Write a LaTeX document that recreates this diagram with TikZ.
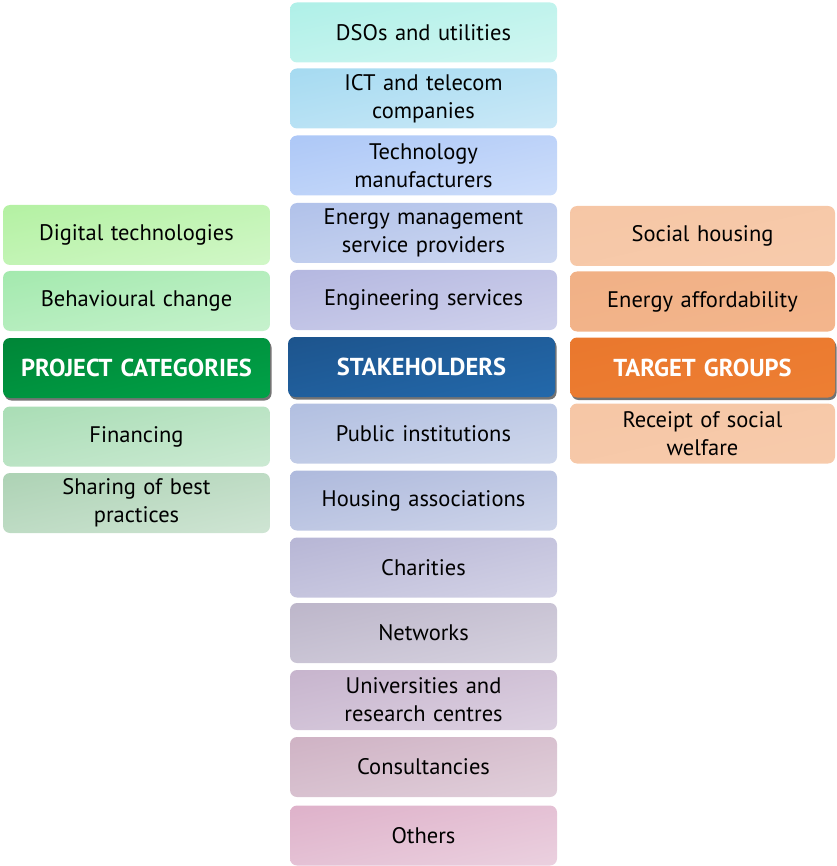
\documentclass[tikz,border=0pt]{standalone}
\usepackage{fontspec}
\setmainfont{PT Sans}
\usetikzlibrary{shadows}
% box fills: top-left tone / bottom-right tone
\definecolor{dsoA}{HTML}{9EEDE3}\definecolor{dsoB}{HTML}{E2F9F6}
\definecolor{ictA}{HTML}{93D3EE}\definecolor{ictB}{HTML}{DDF0FA}
\definecolor{tecA}{HTML}{9DBDF5}\definecolor{tecB}{HTML}{DDE8FC}
\definecolor{emsA}{HTML}{A2B6E6}\definecolor{emsB}{HTML}{DDE4F5}
\definecolor{engA}{HTML}{A6AADA}\definecolor{engB}{HTML}{DEDFF2}
\definecolor{pubA}{HTML}{A3B3DB}\definecolor{pubB}{HTML}{DDE3F1}
\definecolor{houA}{HTML}{9EACD6}\definecolor{houB}{HTML}{DEE2F0}
\definecolor{chaA}{HTML}{A9A8CD}\definecolor{chaB}{HTML}{E1E0EE}
\definecolor{netA}{HTML}{B0A8BF}\definecolor{netB}{HTML}{E3E0EA}
\definecolor{uniA}{HTML}{BCA6C3}\definecolor{uniB}{HTML}{E7DFEB}
\definecolor{conA}{HTML}{C6A4B9}\definecolor{conB}{HTML}{EADEE6}
\definecolor{othA}{HTML}{D8A2BF}\definecolor{othB}{HTML}{F1E0EA}
\definecolor{digA}{HTML}{A5EE90}\definecolor{digB}{HTML}{E0FADA}
\definecolor{behA}{HTML}{92E59E}\definecolor{behB}{HTML}{D8F6DD}
\definecolor{finA}{HTML}{98D7A6}\definecolor{finB}{HTML}{DDF0E2}
\definecolor{shaA}{HTML}{9CC9A5}\definecolor{shaB}{HTML}{E0EEE3}
\definecolor{stkA}{HTML}{1A4A7E}\definecolor{stkB}{HTML}{2673BA}
\definecolor{prjA}{HTML}{00782F}\definecolor{prjB}{HTML}{00B050}
\definecolor{tgtA}{HTML}{E8742A}\definecolor{tgtB}{HTML}{EF8236}
\definecolor{socA}{HTML}{F5C4A2}\definecolor{socB}{HTML}{F8CDAF}
\definecolor{affA}{HTML}{F0AE82}\definecolor{affB}{HTML}{F4B890}

% diagonal gradient: gA at the top-left corner, gB at the bottom-right corner
\colorlet{gA}{white}\colorlet{gB}{white}
\pgfdeclarefunctionalshading[gA,gB]{diag}{\pgfpointorigin}{\pgfpoint{100bp}{100bp}}
{\pgfshadecolortorgb{gA}{\ga}\pgfshadecolortorgb{gB}{\gb}%
 \pgfmathsetmacro\dr{\gbred-\gared}%
 \pgfmathsetmacro\dg{\gbgreen-\gagreen}%
 \pgfmathsetmacro\db{\gbblue-\gablue}}
{100 exch sub add 200 div
 dup \dr\space mul \gared\space add exch
 dup \dg\space mul \gagreen\space add exch
 \db\space mul \gablue\space add}

\tikzset{
  box/.style={rounded corners=7pt, minimum height=60pt, inner sep=2pt,
    align=center, font=\fontsize{22.5}{28}\selectfont, text=black},
  cbox/.style={box, minimum width=267pt, text width=255pt},
  sbox/.style={box, minimum width=265pt, text width=253pt},
  header/.style={box, minimum width=267pt, text width=260pt,
    font=\fontsize{24.5}{28}\selectfont\bfseries, text=white,
    drop shadow={shadow xshift=1.5pt, shadow yshift=-2.5pt, opacity=0.55, fill=black}},
  grad/.style 2 args={/utils/exec={\colorlet{gA}{#1}\colorlet{gB}{#2}}, shading=diag}
}
\begin{document}
\begin{tikzpicture}[x=1pt, y=-1pt]
\useasboundingbox (0,0) rectangle (836,866);

% stakeholders column
\node[cbox, grad={dsoA}{dsoB}] (dso) at (423.5,32.5) {DSOs and utilities};
\node[cbox, grad={ictA}{ictB}] (ict) at (423.5,98.5) {ICT and telecom\\companies};
\node[cbox, grad={tecA}{tecB}] (tec) at (423.5,165.5) {Technology\\manufacturers};
\node[cbox, grad={emsA}{emsB}] (ems) at (423.5,233) {Energy management\\service providers};
\node[cbox, grad={engA}{engB}] (eng) at (423.5,300) {Engineering services};
\node[header, grad={stkA}{stkB}] (stk) at (421.5,367) {STAKEHOLDERS};
\node[cbox, grad={pubA}{pubB}] (pub) at (423.5,433.5) {Public institutions};
\node[cbox, grad={houA}{houB}] (hou) at (423.5,500.5) {Housing associations};
\node[cbox, grad={chaA}{chaB}] (cha) at (423.5,567.5) {Charities};
\node[cbox, grad={netA}{netB}] (net) at (423.5,633) {Networks};
\node[cbox, grad={uniA}{uniB}] (uni) at (423.5,700) {Universities and\\research centres};
\node[cbox, grad={conA}{conB}] (con) at (423.5,767) {Consultancies};
\node[cbox, grad={othA}{othB}] (oth) at (423.5,835.5) {Others};

% project categories column
\node[cbox, grad={digA}{digB}] (dig) at (136.5,235) {Digital technologies};
\node[cbox, grad={behA}{behB}] (beh) at (136.5,301) {Behavioural change};
\node[header, grad={prjA}{prjB}] (prj) at (136.5,368) {PROJECT CATEGORIES};
\node[cbox, grad={finA}{finB}] (fin) at (136.5,436.5) {Financing};
\node[cbox, grad={shaA}{shaB}] (sha) at (136.5,503) {Sharing of best\\practices};

% target groups column
\node[sbox, grad={socA}{socB}] (soc) at (702.5,236) {Social housing};
\node[sbox, grad={affA}{affB}] (aff) at (702.5,301.5) {Energy affordability};
\node[header, minimum width=265pt, grad={tgtA}{tgtB}] (tgt) at (702.5,367.5) {TARGET GROUPS};
\node[sbox, grad={socA}{socB}] (rec) at (702.5,433.5) {Receipt of social\\welfare};
\end{tikzpicture}
\end{document}
